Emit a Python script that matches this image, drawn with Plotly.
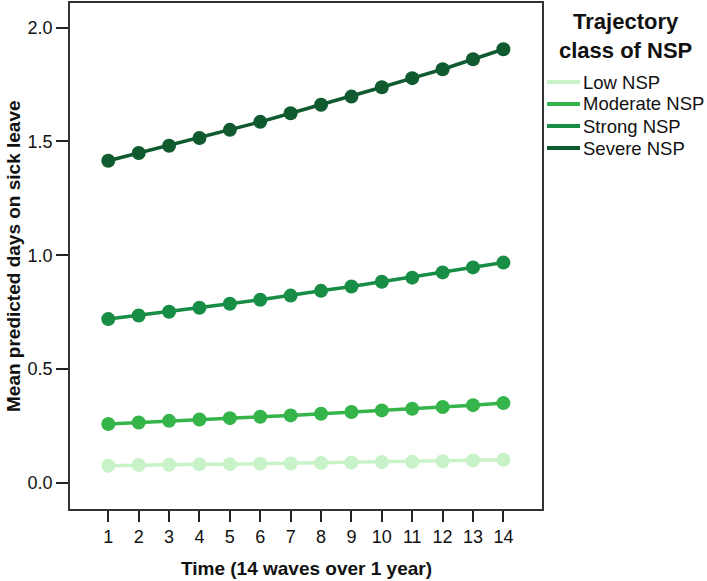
import plotly.graph_objects as go

waves = list(range(1, 15))
tick_labels = [str(w) for w in waves]
class_names = ["Low NSP", "Moderate NSP", "Strong NSP", "Severe NSP"]
low_nsp = [0.076, 0.079, 0.080, 0.082, 0.083, 0.085, 0.086, 0.088, 0.090, 0.092, 0.093, 0.096, 0.099, 0.102]
moderate_nsp = [0.259, 0.266, 0.273, 0.279, 0.285, 0.291, 0.297, 0.304, 0.312, 0.319, 0.326, 0.334, 0.342, 0.351]
strong_nsp = [0.720, 0.736, 0.752, 0.770, 0.787, 0.805, 0.823, 0.844, 0.863, 0.884, 0.902, 0.925, 0.947, 0.968]
severe_nsp = [1.415, 1.449, 1.481, 1.515, 1.551, 1.586, 1.624, 1.661, 1.697, 1.738, 1.778, 1.817, 1.861, 1.905]
series = [low_nsp, moderate_nsp, strong_nsp, severe_nsp]
colors = ["#c8f2c8", "#35b44a", "#178d46", "#0f5a2f"]
y_ticks = [0.0, 0.5, 1.0, 1.5, 2.0]

FONT = "Liberation Sans, Arial, sans-serif"
W, H = 707, 581
L, R, T, B = 70, 165, 3, 72
PW, PH = W - L - R, H - T - B


def px_x(px):
    return (px - L) / PW


def px_y(py):
    return (H - B - py) / PH


fig = go.Figure()
for name, vals, col in zip(class_names, series, colors):
    fig.add_trace(go.Scatter(
        x=waves, y=vals, mode="lines+markers", name=name,
        line=dict(color=col, width=3.5),
        marker=dict(color=col, size=14),
        showlegend=False))

annotations = [
    dict(text="<b>Time (14 waves over 1 year)</b>", xref="paper", yref="paper",
         x=0.5, y=px_y(568), xanchor="center", yanchor="middle", showarrow=False,
         font=dict(size=19, color="#111111")),
    dict(text="<b>Mean predicted days on sick leave</b>", xref="paper", yref="paper",
         x=px_x(13), y=0.5, xanchor="center", yanchor="middle", showarrow=False,
         textangle=-90, font=dict(size=19, color="#111111")),
    dict(text="<b>Trajectory<br>class of NSP</b>", xref="paper", yref="paper",
         x=px_x(625), y=px_y(36), xanchor="center", yanchor="middle", showarrow=False,
         align="center", font=dict(size=22, color="#111111")),
]
shapes = []
legend_rows = [82, 104, 126, 148]
for name, col, ry in zip(class_names, colors, legend_rows):
    shapes.append(dict(type="line", xref="paper", yref="paper",
                       x0=px_x(547), x1=px_x(580), y0=px_y(ry), y1=px_y(ry),
                       line=dict(color=col, width=4)))
    annotations.append(dict(text=name, xref="paper", yref="paper",
                            x=px_x(581), y=px_y(ry), xanchor="left", yanchor="middle",
                            showarrow=False, font=dict(size=18.5, color="#111111")))

fig.update_layout(
    width=W, height=H,
    margin=dict(l=L, r=R, t=T, b=B, autoexpand=False),
    paper_bgcolor="white", plot_bgcolor="white",
    font=dict(family=FONT, color="#111111", size=18),
    showlegend=False,
    annotations=annotations, shapes=shapes,
)
fig.update_xaxes(
    range=[-0.26, 15.27], tickmode="array", tickvals=waves, ticktext=tick_labels,
    ticks="outside", ticklen=11, tickwidth=1.5, tickcolor="#222222",
    showline=True, linecolor="#333333", linewidth=1.5, mirror=True,
    showgrid=False, zeroline=False, automargin=False,
    tickfont=dict(size=18, color="#111111"),
)
fig.update_yaxes(
    range=[-0.114, 2.108], tickmode="array", tickvals=y_ticks,
    ticktext=[f"{v:.1f}" for v in y_ticks],
    ticks="outside", ticklen=12, tickwidth=1.5, tickcolor="#222222",
    showline=True, linecolor="#333333", linewidth=1.5, mirror=True,
    showgrid=False, zeroline=False, automargin=False,
    tickfont=dict(size=18, color="#111111"),
)
fig.write_html("out.html", config={"displayModeBar": False},
               post_script="document.body.style.margin='0px';")
